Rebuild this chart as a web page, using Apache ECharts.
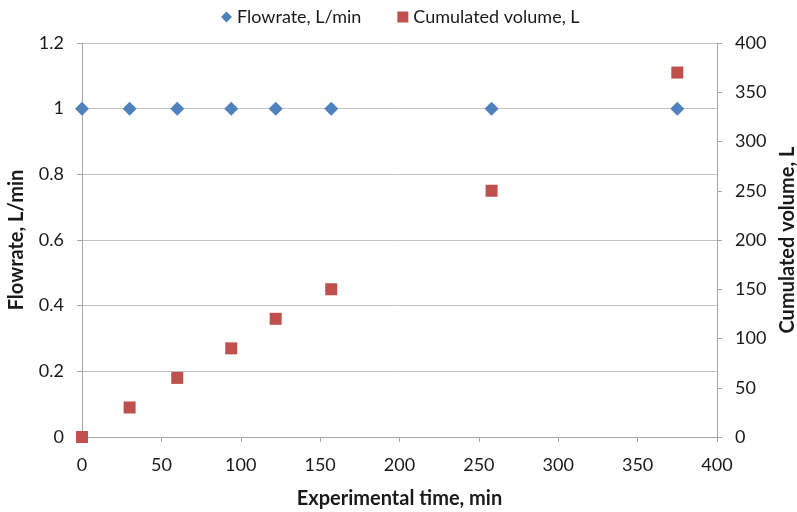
<!DOCTYPE html>
<html>
<head>
<meta charset="utf-8">
<script src="https://cdn.jsdelivr.net/npm/echarts@6/dist/echarts.min.js"></script>
<style>
  html, body { margin: 0; padding: 0; background: #fff; }
  #chart { width: 797px; height: 512px; }
</style>
</head>
<body>
<div id="chart"></div>
<script>
// Experimental time (min) at each sampling point
const timeMin = [0, 30, 60, 94, 122, 157, 258, 375];
// Flowrate, L/min
const flowrate = [1, 1, 1, 1, 1, 1, 1, 1];
// Cumulated volume, L
const volume = [0, 30, 60, 90, 120, 150, 250, 370];

const leftTicks = { min: 0, max: 1.2, interval: 0.2 };
const rightTicks = { min: 0, max: 400, interval: 50 };
const xTicks = { min: 0, max: 400, interval: 50 };

const FONT = 'Lato, "Open Sans", sans-serif';
const TEXT = '#1a1a1a';
const AXIS = '#a6a6a6';
const GRID = '#c4c4c4';

const chart = echarts.init(document.getElementById('chart'), null, { renderer: 'canvas' });

chart.setOption({
  animation: false,
  textStyle: { fontFamily: FONT },
  legend: {
    top: 3,
    left: 216,
    itemGap: 36,
    itemWidth: 11,
    itemHeight: 11,
    textStyle: { fontFamily: FONT, fontSize: 18, color: TEXT },
    data: [
      { name: 'Flowrate, L/min', icon: 'diamond' },
      { name: 'Cumulated volume, L', icon: 'rect' }
    ]
  },
  grid: { left: 82, right: 80, top: 43, bottom: 75, containLabel: false, outerBoundsMode: 'none' },
  xAxis: {
    type: 'value',
    min: xTicks.min, max: xTicks.max, interval: xTicks.interval,
    name: 'Experimental time, min',
    nameLocation: 'middle',
    nameGap: 52,
    nameTextStyle: { fontFamily: FONT, fontSize: 20, fontWeight: 'bold', color: TEXT },
    axisLine: { show: true, lineStyle: { color: AXIS, width: 1 } },
    axisTick: { show: true, length: 5, lineStyle: { color: AXIS } },
    axisLabel: { fontFamily: FONT, fontSize: 18, color: TEXT, margin: 19 },
    splitLine: { show: false }
  },
  yAxis: [
    {
      type: 'value',
      position: 'left',
      min: leftTicks.min, max: leftTicks.max, interval: leftTicks.interval,
      name: 'Flowrate, L/min',
      nameLocation: 'middle',
      nameGap: 55,
      nameTextStyle: { fontFamily: FONT, fontSize: 20, fontWeight: 'bold', color: TEXT },
      axisLine: { show: true, lineStyle: { color: AXIS, width: 1 } },
      axisTick: { show: true, length: 5, lineStyle: { color: AXIS } },
      axisLabel: { fontFamily: FONT, fontSize: 18, color: TEXT, margin: 18 },
      splitLine: { show: true, lineStyle: { color: GRID, width: 1 } }
    },
    {
      type: 'value',
      position: 'right',
      min: rightTicks.min, max: rightTicks.max, interval: rightTicks.interval,
      name: 'Cumulated volume, L',
      nameLocation: 'middle',
      nameGap: 58,
      nameRotate: 90,
      nameTextStyle: { fontFamily: FONT, fontSize: 20, fontWeight: 'bold', color: TEXT },
      axisLine: { show: true, lineStyle: { color: AXIS, width: 1 } },
      axisTick: { show: true, length: 5, lineStyle: { color: AXIS } },
      axisLabel: { fontFamily: FONT, fontSize: 18, color: TEXT, margin: 18 },
      splitLine: { show: false }
    }
  ],
  series: [
    {
      name: 'Flowrate, L/min',
      type: 'scatter',
      yAxisIndex: 0,
      symbol: 'diamond',
      symbolSize: 14,
      itemStyle: { color: '#4f81bd', opacity: 1 },
      data: timeMin.map((t, i) => [t, flowrate[i]]),
      z: 3
    },
    {
      name: 'Cumulated volume, L',
      type: 'scatter',
      yAxisIndex: 1,
      symbol: 'rect',
      symbolSize: 12,
      itemStyle: { color: '#c0504d', opacity: 1 },
      data: timeMin.map((t, i) => [t, volume[i]]),
      z: 4
    }
  ]
});
</script>
</body>
</html>
